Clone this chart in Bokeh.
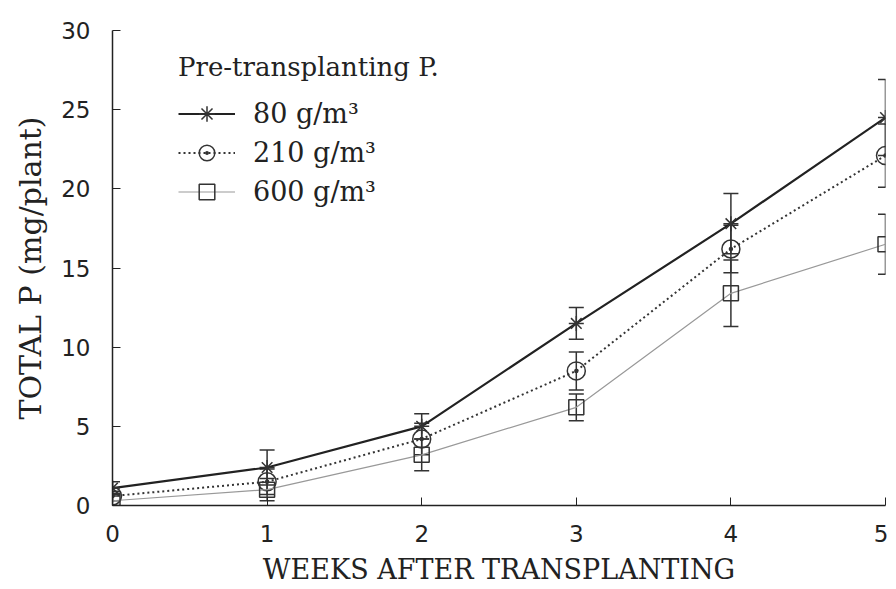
from bokeh.plotting import figure
from bokeh.models import Range1d, Whisker, TeeHead, ColumnDataSource, Legend, LegendItem, FixedTicker
from bokeh.embed import file_html
from bokeh.resources import INLINE

weeks = [0, 1, 2, 3, 4, 5]
p80 = [1.1, 2.4, 5.0, 11.5, 17.8, 24.5]
p80_err = [0.4, 1.1, 0.8, 1.0, 1.9, 2.4]
p210 = [0.6, 1.5, 4.2, 8.5, 16.2, 22.1]
p210_err = [0.3, 0.8, 1.0, 1.2, 1.5, 2.0]
p600 = [0.3, 1.0, 3.2, 6.2, 13.4, 16.5]
p600_err = [0.3, 0.7, 1.0, 0.85, 2.1, 1.9]
labels = ["80 g/m³", "210 g/m³", "600 g/m³"]
yticks = [0, 5, 10, 15, 20, 25, 30]

SERIF = "DejaVu Serif"
SANS = "DejaVu Sans"
INK = "#222222"

p = figure(width=888, height=589, output_backend="svg", toolbar_location=None,
           x_range=Range1d(0, 5), y_range=Range1d(0, 30),
           min_border_left=112, min_border_right=3, min_border_top=30, min_border_bottom=84)
p.grid.visible = False
p.outline_line_color = None
p.background_fill_color = "white"

for ax in (p.xaxis[0], p.yaxis[0]):
    ax.major_tick_in = 8
    ax.major_tick_out = 0
    ax.minor_tick_line_color = None
    ax.axis_line_color = INK
    ax.axis_line_width = 1.5
    ax.major_tick_line_color = INK
    ax.major_label_text_font = SANS
    ax.major_label_text_font_size = "23px"
    ax.major_label_text_color = INK
    ax.axis_label_text_font = SERIF
    ax.axis_label_text_font_style = "normal"
    ax.axis_label_text_color = INK

p.xaxis.axis_label_text_font_size = "27px"
p.yaxis.axis_label_text_font_size = "30px"
p.xaxis.ticker = FixedTicker(ticks=weeks)
p.yaxis.ticker = FixedTicker(ticks=yticks)
p.xaxis.axis_label = "WEEKS AFTER TRANSPLANTING"
p.yaxis.axis_label = "TOTAL P (mg/plant)"
p.xaxis.major_label_standoff = 19
p.yaxis.major_label_standoff = 22
p.xaxis.axis_label_standoff = 9
p.yaxis.axis_label_standoff = 10

series = [
    (p80, p80_err, INK, 2.2, "solid", "asterisk", 15),
    (p210, p210_err, "#333333", 2.0, "2 3", "circle_dot", 18),
    (p600, p600_err, "#999999", 1.2, "solid", "square", 15),
]

items = []
for (vals, errs, col, lw, dash, marker, msize), lab in zip(series, labels):
    src = ColumnDataSource(dict(x=weeks, y=vals,
                                lo=[v - e for v, e in zip(vals, errs)],
                                hi=[v + e for v, e in zip(vals, errs)]))
    w = Whisker(source=src, base="x", lower="lo", upper="hi",
                line_color="#333333", line_width=1.5,
                upper_head=TeeHead(size=15, line_color="#333333", line_width=1.5),
                lower_head=TeeHead(size=15, line_color="#333333", line_width=1.5))
    p.add_layout(w)
    lr = p.line("x", "y", source=src, line_color=col, line_width=lw, line_dash=dash)
    sr = p.scatter("x", "y", source=src, marker=marker, size=msize,
                   line_color="#333333", line_width=1.5, fill_color=None)
    items.append(LegendItem(label=lab, renderers=[lr, sr]))

legend = Legend(items=items, location=(66, 294), title="Pre-transplanting P.",
                title_text_font=SERIF, title_text_font_size="26px", title_text_font_style="normal",
                title_text_color=INK, title_standoff=12,
                label_text_font=SERIF, label_text_font_size="27px", label_text_color=INK,
                glyph_width=57, glyph_height=39, label_height=39, spacing=0,
                label_standoff=18, padding=0, margin=0,
                border_line_alpha=0, background_fill_alpha=0)
p.add_layout(legend)

open("out.html", "w").write(file_html(p, INLINE))
